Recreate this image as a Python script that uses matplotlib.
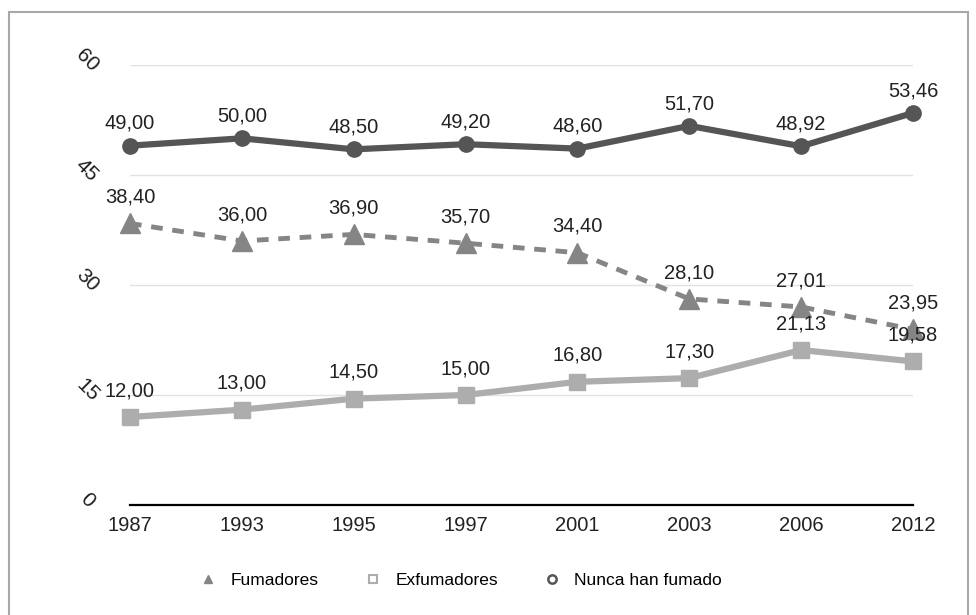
import matplotlib
matplotlib.use("Agg")
import matplotlib.pyplot as plt
from matplotlib.lines import Line2D
from matplotlib.patches import Rectangle
import matplotlib.transforms as mtransforms

plt.rcParams['font.family'] = ['Liberation Sans', 'DejaVu Sans']

years = ["1987", "1993", "1995", "1997", "2001", "2003", "2006", "2012"]
fumadores = [38.40, 36.00, 36.90, 35.70, 34.40, 28.10, 27.01, 23.95]
exfumadores = [12.00, 13.00, 14.50, 15.00, 16.80, 17.30, 21.13, 19.58]
nunca = [49.00, 50.00, 48.50, 49.20, 48.60, 51.70, 48.92, 53.46]
y_ticks = [0, 15, 30, 45, 60]

W, H = 976, 615
fig = plt.figure(figsize=(W / 100, H / 100), dpi=100)
fig.patch.set_facecolor("white")

# outer frame
fig.patches.append(Rectangle((9 / W, -0.05), (968 - 9) / W, 1.05 - 12 / H,
                             transform=fig.transFigure, fill=False,
                             edgecolor="#a8a8a8", linewidth=1.5))

ax = fig.add_axes([130 / W, 1 - 505 / H, (913 - 130) / W, (505 - 65) / H])
ax.set_xlim(0, len(years) - 1)
ax.set_ylim(0, 60)
for s in ax.spines.values():
    s.set_visible(False)

x = list(range(len(years)))

# horizontal grid
for t in y_ticks[1:]:
    ax.axhline(t, color="#e2e2e2", linewidth=1.0, zorder=0)
ax.axhline(0, color="black", linewidth=1.6, zorder=1, clip_on=False)

# rotated y labels
for t in y_ticks:
    tr = mtransforms.offset_copy(ax.get_yaxis_transform(), fig=fig, x=-43 * 0.72, y=5 * 0.72, units="points")
    ax.text(0, t, str(t), transform=tr, rotation=-45, ha="center", va="center",
            fontsize=15, color="#1e1e1e")

ax.set_xticks(x)
ax.set_xticklabels(years, fontsize=14.5, color="#222222")
ax.tick_params(axis="x", length=0, pad=8)
ax.set_yticks([])

c_nunca, c_fum, c_exf = "#555555", "#858585", "#adadad"

ax.plot(x, exfumadores, color=c_exf, linewidth=4.5, marker="s", markersize=11,
        zorder=3, clip_on=False)
ax.plot(x, fumadores, color=c_fum, linewidth=3.5, linestyle=(0, (2.4, 2.0)),
        marker="^", markersize=14, zorder=4, clip_on=False)
ax.plot(x, nunca, color=c_nunca, linewidth=4.5, marker="o", markersize=11,
        zorder=5, clip_on=False)


def fmt(v):
    return f"{v:.2f}".replace(".", ",")


for series, off in ((nunca, 16), (fumadores, 19), (exfumadores, 19)):
    for xi, v in zip(x, series):
        ax.annotate(fmt(v), (xi, v), xytext=(0, off), textcoords="offset points",
                    ha="center", va="center", fontsize=14.5, color="#222222",
                    zorder=6, annotation_clip=False)

handles = [
    Line2D([], [], linestyle="none", marker="^", markersize=6, color=c_fum),
    Line2D([], [], linestyle="none", marker="s", markersize=6,
           markerfacecolor="white", markeredgecolor=c_exf, markeredgewidth=1.5),
    Line2D([], [], linestyle="none", marker="o", markersize=6,
           markerfacecolor="white", markeredgecolor=c_nunca, markeredgewidth=1.8),
]
fig.legend(handles, ["Fumadores", "Exfumadores", "Nunca han fumado"],
           loc="center", bbox_to_anchor=(461 / W, 1 - 580 / H), ncol=3,
           frameon=False, fontsize=12.5, handlelength=1.0, handletextpad=0.8,
           columnspacing=2.6)

fig.savefig("out.png", dpi=100, facecolor="white")
